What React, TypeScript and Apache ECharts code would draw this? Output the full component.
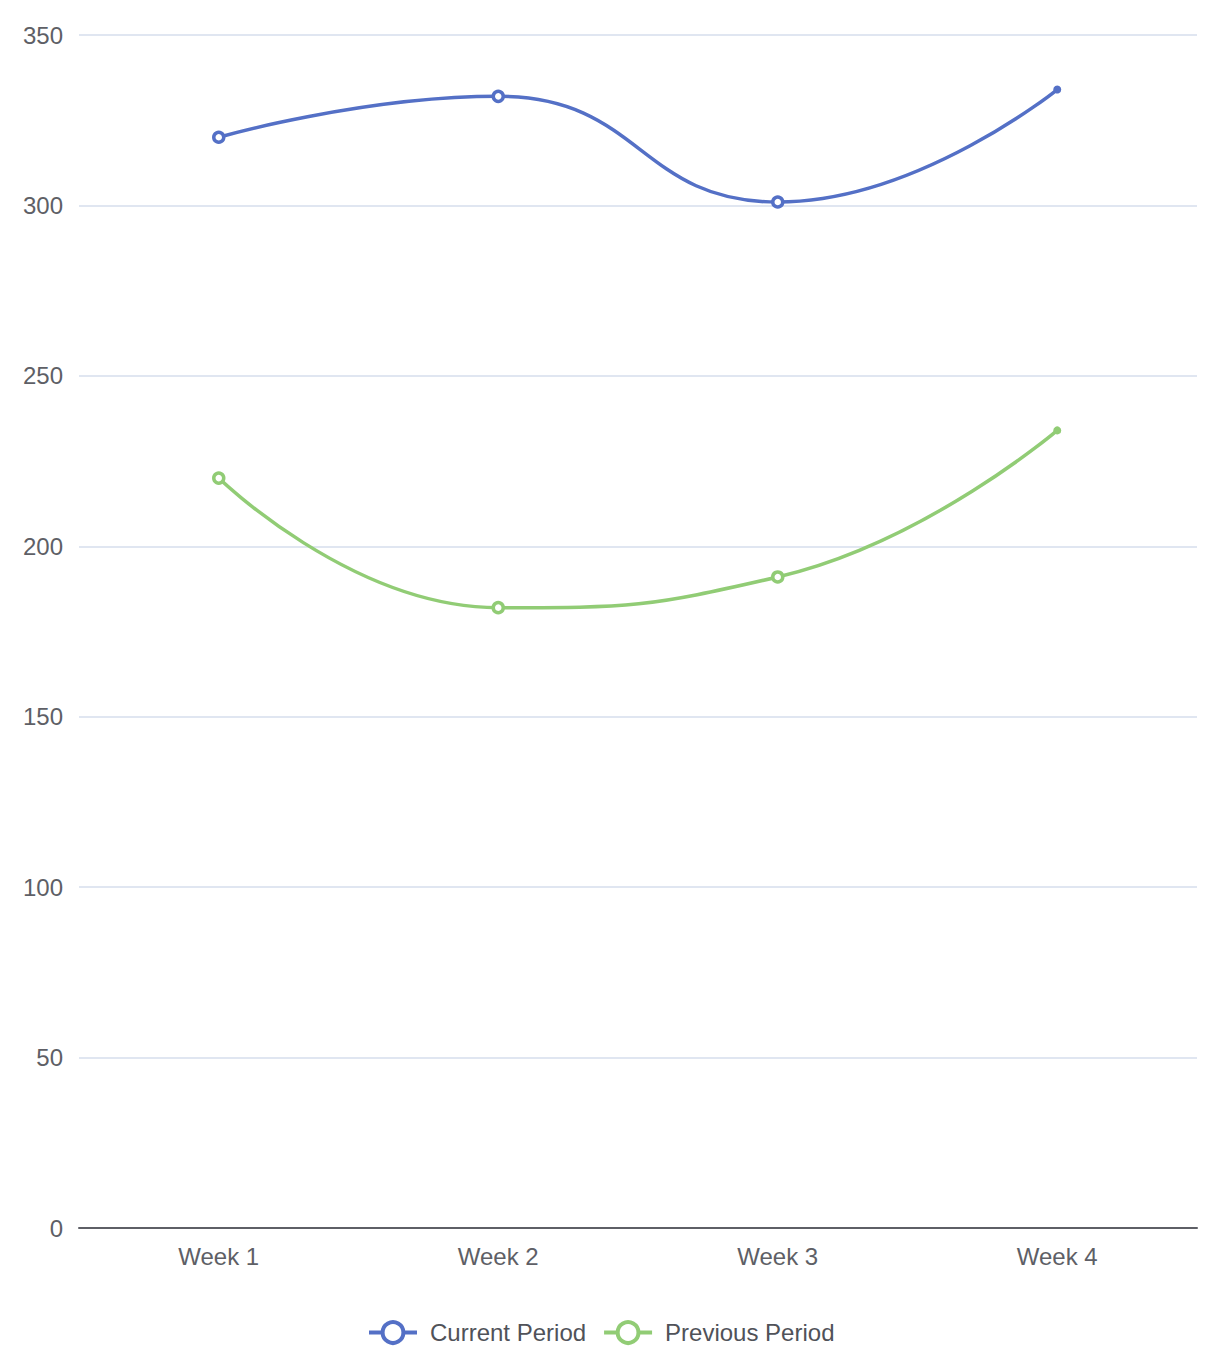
import React, { useEffect, useRef } from "react";
import * as echarts from "echarts";

const categories = ["Week 1", "Week 2", "Week 3", "Week 4"];
const currentPeriod = [320, 332, 301, 334];
const previousPeriod = [220, 182, 191, 234];
const seriesNames = ["Current Period", "Previous Period"];
const seriesColors = ["#5470c6", "#91cc75"];

function withLastDot(values: number[], color: string) {
  return values.map((v, i) =>
    i === values.length - 1
      ? { value: v, symbolSize: 8, itemStyle: { color, borderWidth: 0 } }
      : v
  );
}

function makeSeries(name: string, values: number[], color: string) {
  return {
    name,
    type: "line",
    smooth: true,
    data: withLastDot(values, color),
    symbol: "circle",
    symbolSize: 10,
    color,
    lineStyle: { width: 3.5, color },
    itemStyle: { color: "#fff", borderColor: color, borderWidth: 3.5 },
  };
}

export default function App() {
  const ref = useRef<HTMLDivElement>(null);
  useEffect(() => {
    document.body.style.margin = "0";
    const chart = echarts.init(ref.current!, null, { renderer: "svg" });
    chart.setOption({
      animation: false,
      textStyle: { fontFamily: "Helvetica, Arial, 'Liberation Sans', sans-serif" },
      grid: { left: 79, right: 25, top: 35, bottom: 144 },
      legend: {
        bottom: 22,
        left: 362,
        itemWidth: 48,
        itemHeight: 26,
        itemGap: 16,
        textStyle: { fontSize: 24, color: "#505259", padding: [0, 0, 0, 8] },
        itemStyle: { borderWidth: 4 },
        lineStyle: { width: 4 },
        data: seriesNames,
      },
      xAxis: {
        type: "category",
        data: categories,
        axisTick: { show: false },
        axisLine: { lineStyle: { color: "#5e5f66", width: 2 } },
        axisLabel: { fontSize: 24, color: "#5e5f66", margin: 16 },
      },
      yAxis: {
        type: "value",
        min: 0,
        max: 350,
        interval: 50,
        axisLabel: { fontSize: 24, color: "#5e5f66", margin: 16 },
        splitLine: { lineStyle: { color: "#E0E6F1", width: 2 } },
      },
      series: [
        makeSeries(seriesNames[0], currentPeriod, seriesColors[0]),
        makeSeries(seriesNames[1], previousPeriod, seriesColors[1]),
      ],
    });
    return () => chart.dispose();
  }, []);
  return <div ref={ref} style={{ width: 1222, height: 1372 }} />;
}
